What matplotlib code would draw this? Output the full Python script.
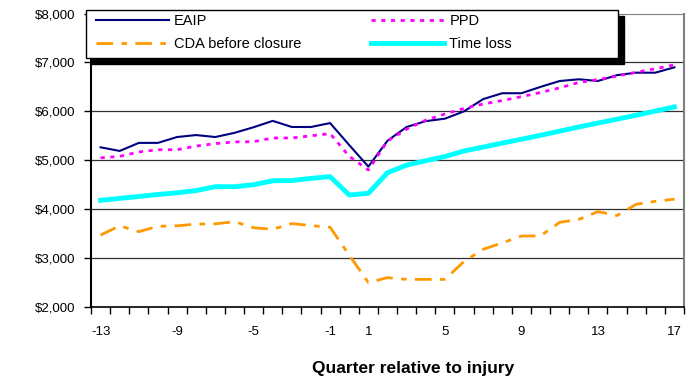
import numpy as np
import matplotlib.pyplot as plt
from matplotlib.patches import Rectangle

plt.rcParams['font.family'] = ['Liberation Sans', 'DejaVu Sans']

# quarters relative to injury (0 is the injury quarter, not labelled)
quarters = list(range(-13, 18))
tick_quarters = [-13, -9, -5, -1, 1, 5, 9, 13, 17]

eaip = [5265, 5190, 5355, 5355, 5475, 5515, 5475, 5560, 5675, 5805, 5680, 5680, 5760,
        5310, 4870, 5400, 5680, 5800, 5850, 6000, 6250, 6370, 6370, 6500, 6620, 6655,
        6620, 6740, 6790, 6790, 6900]
ppd = [5050, 5080, 5170, 5215, 5215, 5290, 5340, 5375, 5380, 5455, 5455, 5500, 5545,
       5080, 4800, 5390, 5635, 5820, 5945, 6060, 6150, 6220, 6300, 6385, 6480, 6590,
       6650, 6720, 6800, 6870, 6950]
cda = [3470, 3660, 3540, 3650, 3660, 3695, 3700, 3745, 3620, 3590, 3705, 3665, 3630,
       3060, 2500, 2600, 2565, 2565, 2565, 2930, 3180, 3310, 3450, 3455, 3730, 3790,
       3950, 3870, 4100, 4160, 4205]
time_loss = [4180, 4220, 4260, 4300, 4335, 4380, 4460, 4460, 4500, 4580, 4585, 4630, 4665,
             4290, 4325, 4745, 4900, 4990, 5075, 5190, 5270, 5350, 5430, 5510, 5595, 5680,
             5760, 5840, 5920, 6005, 6090]

x = np.arange(len(quarters))
W, H = 691, 383

fig = plt.figure(figsize=(6.91, 3.83), dpi=100)
ax = fig.add_axes([91 / W, 1 - 307 / H, 593 / W, 293.5 / H])

for yv in range(3000, 8000, 1000):
    ax.axhline(yv, color='#303030', lw=0.9, zorder=1)

ax.plot(x, eaip, color='#000080', lw=1.5, label='EAIP', zorder=4)
ax.plot(x, ppd, color='#FF00FF', lw=2, ls=(0, (1.5, 2)), label='PPD', zorder=4)
ax.plot(x, cda, color='#FF9900', lw=2, ls=(0, (6, 3, 2, 3)), label='CDA before closure', zorder=3)
ax.plot(x, time_loss, color='#00FFFF', lw=3.5, label='Time loss', zorder=3)

ax.set_xlim(-0.5, len(quarters) - 0.5)
ax.set_ylim(2000, 8000)
ax.set_yticks(range(2000, 9000, 1000))
ax.set_yticklabels(['$%s' % format(v, ',') for v in range(2000, 9000, 1000)], fontsize=9.5)
ax.tick_params(axis='y', length=5, width=1, direction='out', pad=6)

ax.set_xticks([quarters.index(q) for q in tick_quarters])
ax.set_xticklabels([str(q) for q in tick_quarters], fontsize=9.5)
ax.set_xticks(np.arange(-0.5, len(quarters)), minor=True)
ax.tick_params(axis='x', which='major', length=0, pad=14)
ax.tick_params(axis='x', which='minor', length=5, width=1, direction='out')

ax.spines['left'].set_linewidth(1.5)
ax.spines['bottom'].set_linewidth(1.2)
ax.spines['top'].set_color('#808080')
ax.spines['right'].set_color('#808080')
ax.spines['right'].set_linewidth(1.5)

fig.text(413 / W, 1 - 368 / H, 'Quarter relative to injury', fontsize=12.5,
         fontweight='bold', ha='center', va='center')

# legend box with a solid black shadow
fig.add_artist(Rectangle((92 / W, 1 - 64 / H), 532 / W, 48 / H,
                         transform=fig.transFigure, color='black', zorder=6))
fig.add_artist(Rectangle((86 / W, 1 - 58 / H), 532 / W, 48 / H, transform=fig.transFigure,
                         facecolor='white', edgecolor='black', lw=1, zorder=6.5))
h, l = ax.get_legend_handles_labels()
order = [0, 2, 1, 3]
leg = fig.legend([h[i] for i in order], [l[i] for i in order], ncol=2,
                 loc='upper left', bbox_to_anchor=(96 / W, 1 - 14 / H),
                 fontsize=10.5, handlelength=5.0, handletextpad=0.35, columnspacing=4.8,
                 labelspacing=0.65, borderaxespad=0, borderpad=0, frameon=False)
leg.set_zorder(7)

fig.savefig('out.png', dpi=100)
